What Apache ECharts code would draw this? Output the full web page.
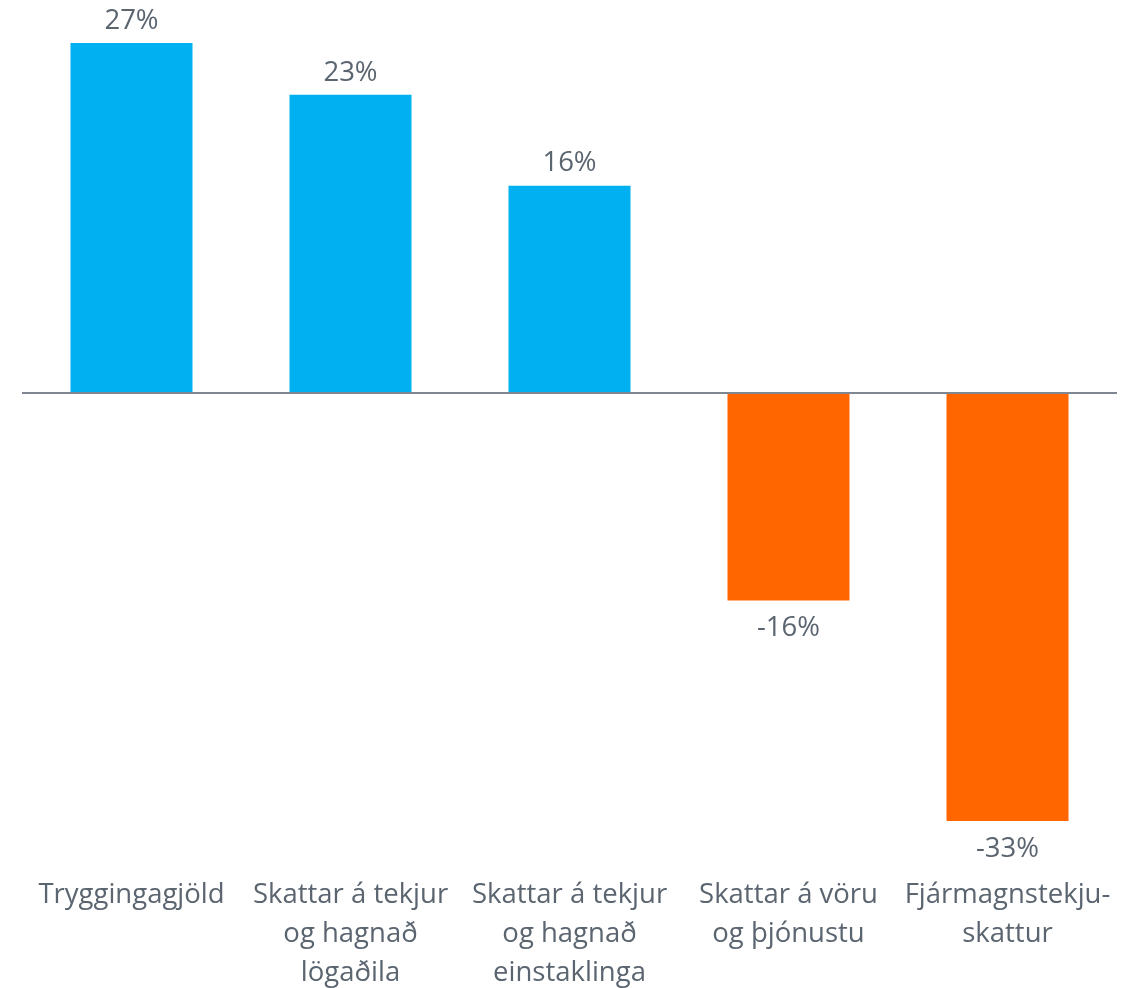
<!DOCTYPE html>
<html>
<head>
<meta charset="utf-8">
<script src="https://cdn.jsdelivr.net/npm/echarts@6/dist/echarts.min.js"></script>
<style>
  html, body { margin: 0; padding: 0; background: #fff; }
  #main { width: 1127px; height: 988px; }
</style>
</head>
<body>
<div id="main"></div>
<script>
var categories = [
  'Tryggingagjöld',
  'Skattar á tekjur\nog hagnað\nlögaðila',
  'Skattar á tekjur\nog hagnað\neinstaklinga',
  'Skattar á vöru\nog þjónustu',
  'Fjármagnstekju-\nskattur'
];
var values = [27, 23, 16, -16, -33];
var colorList = ['#00B0F0', '#FF6600'];

var myChart = echarts.init(document.getElementById('main'));
var textColor = '#5B6570';
var fontFamily = '"Open Sans", "Noto Sans", sans-serif';

var option = {
  animation: false,
  grid: { left: 22, right: 10, top: 43, bottom: 167, outerBoundsMode: 'none' },
  xAxis: {
    type: 'category',
    data: categories,
    position: 'bottom',
    axisLine: { show: false },
    axisTick: { show: false },
    axisLabel: {
      color: textColor,
      fontSize: 27.5,
      fontFamily: fontFamily,
      lineHeight: 39,
      margin: 55,
      interval: 0
    }
  },
  yAxis: {
    type: 'value',
    min: -33,
    max: 27,
    show: false,
    splitLine: { show: false }
  },
  series: [
    {
      type: 'bar',
      data: values.map(function (v) {
        return {
          value: v,
          itemStyle: { color: v >= 0 ? colorList[0] : colorList[1] },
          label: { position: v >= 0 ? 'top' : 'bottom', distance: v >= 0 ? 8 : 14 }
        };
      }),
      barWidth: 122,
      label: {
        show: true,
        color: textColor,
        fontSize: 27.5,
        fontFamily: fontFamily,
        formatter: function (p) { return p.value + '%'; }
      },
      markLine: {
        silent: true,
        symbol: 'none',
        label: { show: false },
        lineStyle: { color: '#7F8793', width: 2, type: 'solid' },
        data: [{ yAxis: 0 }]
      }
    }
  ]
};
myChart.setOption(option);
</script>
</body>
</html>
